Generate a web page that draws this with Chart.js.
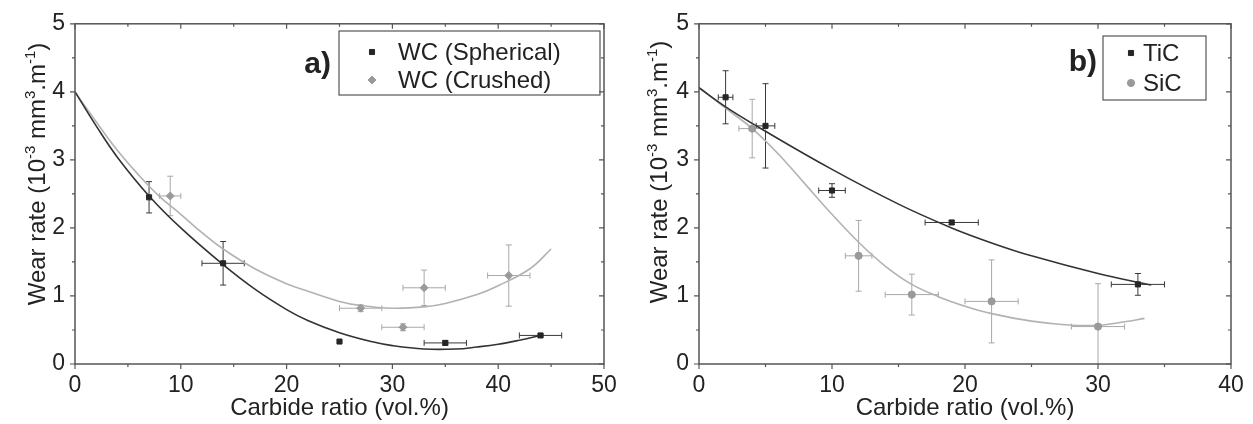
<!DOCTYPE html>
<html>
<head>
<meta charset="utf-8">
<script src="https://cdn.jsdelivr.net/npm/chart.js@4.4.1/dist/chart.umd.min.js"></script>
<style>
body { margin: 0; background: #fff; }
#wrap { position: relative; width: 1253px; height: 424px; }
canvas { position: absolute; top: 0; }
#chartA { left: 0; }
#chartB { left: 626px; }
</style>
</head>
<body>
<div id="wrap">
  <canvas id="chartA" width="626" height="424"></canvas>
  <canvas id="chartB" width="627" height="424"></canvas>
</div>
<script>
//datos panel a) - WC
var sphX    = [ 7, 14, 25, 35, 44 ];
var sphY    = [ 2.45, 1.48, 0.33, 0.31, 0.42 ];
var sphXErr = [ 0, 2, 0, 2, 2 ];
var sphYErr = [ 0.23, 0.32, 0, 0.03, 0.02 ];

var crX    = [ 9, 27, 31, 33, 41 ];
var crY    = [ 2.47, 0.82, 0.54, 1.12, 1.30 ];
var crXErr = [ 1, 2, 2, 2, 2 ];
var crYErr = [ 0.29, 0.05, 0.05, 0.26, 0.45 ];

var fitSphX = [ 0, 2, 4, 7, 10, 14, 17, 20, 22, 25, 28, 30, 33, 36, 38, 40, 42, 44 ];
var fitSphY = [ 4.0, 3.5, 3.04, 2.47, 2.0, 1.46, 1.1, 0.80, 0.64, 0.46, 0.33, 0.27, 0.22, 0.22, 0.25, 0.29, 0.35, 0.42 ];
var fitCrX  = [ 0, 2, 4, 6, 8, 10, 12, 14, 17, 20, 22, 25, 27, 30, 33, 35, 38, 40, 43, 45 ];
var fitCrY  = [ 4.0, 3.56, 3.14, 2.78, 2.46, 2.2, 1.93, 1.69, 1.4, 1.18, 1.07, 0.92, 0.86, 0.82, 0.84, 0.89, 1.02, 1.15, 1.40, 1.69 ];

//datos panel b) - TiC / SiC
var ticX    = [ 2, 5, 10, 19, 33 ];
var ticY    = [ 3.92, 3.50, 2.55, 2.08, 1.17 ];
var ticXErr = [ 0.55, 0.7, 1, 2, 2 ];
var ticYErr = [ 0.39, 0.62, 0.1, 0.03, 0.16 ];

var sicX    = [ 4, 12, 16, 22, 30 ];
var sicY    = [ 3.46, 1.59, 1.02, 0.92, 0.55 ];
var sicXErr = [ 1, 1, 2, 2, 2 ];
var sicYErr = [ 0.43, 0.52, 0.3, 0.61, 0.63 ];

var fitTicX = [ 0, 2, 5, 10, 15, 19, 22, 25, 30, 34 ];
var fitTicY = [ 4.06, 3.78, 3.42, 2.86, 2.35, 2.0, 1.78, 1.59, 1.33, 1.16 ];
var fitSicX = [ 0, 2, 4, 6, 8, 10, 12, 14, 16, 18, 20, 22, 25, 28, 30, 32, 33.5 ];
var fitSicY = [ 4.06, 3.76, 3.46, 3.08, 2.64, 2.2, 1.79, 1.44, 1.17, 0.99, 0.85, 0.74, 0.63, 0.57, 0.57, 0.62, 0.67 ];

var FONT = "'Liberation Sans', Arial, sans-serif";
var DARK = '#262626';
var LIGHT = '#9a9a9a';

function toPoints( xs, ys, xe, ye )
{
  return xs.map( function( x, i )
  {
    return { x: x, y: ys[ i ], xe: xe ? xe[ i ] : 0, ye: ye ? ye[ i ] : 0 };
  });
}

function fitSet( xs, ys, color )
{
  return {
    data: toPoints( xs, ys ),
    showLine: true,
    borderColor: color,
    borderWidth: 1.6,
    pointRadius: 0,
    tension: 0.4,
    order: 2
  };
}

function pointSet( label, pts, style, color, errColor )
{
  return {
    label: label,
    data: pts,
    showLine: false,
    pointStyle: style,
    pointRadius: style == 'rectRot' ? 4 : 3.6,
    backgroundColor: color,
    borderColor: color,
    borderWidth: 1,
    errColor: errColor,
    order: 1
  };
}

//barras de error, marco, titulos y leyenda
var decoPlugin =
{
  id: 'deco',
  beforeDatasetsDraw: function( chart )
  {
    var ctx = chart.ctx, sx = chart.scales.x, sy = chart.scales.y, a = chart.chartArea;
    ctx.save();
    ctx.beginPath();
    ctx.rect( a.left, a.top - 10, a.right - a.left, a.bottom - a.top + 10 );
    ctx.clip();
    ctx.lineWidth = 1;
    chart.data.datasets.forEach( function( ds )
    {
      if ( !ds.errColor ) return;
      ctx.strokeStyle = ds.errColor;
      ds.data.forEach( function( p )
      {
        var px = sx.getPixelForValue( p.x ), py = sy.getPixelForValue( p.y );
        ctx.beginPath();
        if ( p.xe )
        {
          var l = sx.getPixelForValue( p.x - p.xe ), r = sx.getPixelForValue( p.x + p.xe );
          ctx.moveTo( l, py ); ctx.lineTo( r, py );
          ctx.moveTo( l, py - 3 ); ctx.lineTo( l, py + 3 );
          ctx.moveTo( r, py - 3 ); ctx.lineTo( r, py + 3 );
        }
        if ( p.ye )
        {
          var t = sy.getPixelForValue( p.y + p.ye ), b = sy.getPixelForValue( p.y - p.ye );
          ctx.moveTo( px, t ); ctx.lineTo( px, b );
          ctx.moveTo( px - 3, t ); ctx.lineTo( px + 3, t );
          ctx.moveTo( px - 3, b ); ctx.lineTo( px + 3, b );
        }
        ctx.stroke();
      });
    });
    ctx.restore();
  },
  afterDraw: function( chart )
  {
    var ctx = chart.ctx, sx = chart.scales.x, sy = chart.scales.y, a = chart.chartArea;
    var cfg = chart.options.plugins.deco;
    ctx.save();

    //marco
    ctx.strokeStyle = '#555';
    ctx.lineWidth = 1.5;
    ctx.strokeRect( a.left, a.top, a.right - a.left, a.bottom - a.top );

    //marcas de ejes
    ctx.lineWidth = 1.2;
    ctx.beginPath();
    for ( var v = sx.min; v <= sx.max + 0.001; v += cfg.xMinor )
    {
      var px = sx.getPixelForValue( v );
      var len = Math.abs( v % ( cfg.xMinor * 2 ) ) < 0.001 ? 5 : 3;
      ctx.moveTo( px, a.bottom ); ctx.lineTo( px, a.bottom + len );
      ctx.moveTo( px, a.top ); ctx.lineTo( px, a.top + len );
    }
    for ( var w = sy.min; w <= sy.max + 0.001; w += 0.5 )
    {
      var py = sy.getPixelForValue( w );
      var len2 = Math.abs( w % 1 ) < 0.001 ? 5 : 3;
      ctx.moveTo( a.left, py ); ctx.lineTo( a.left - len2, py );
      ctx.moveTo( a.right, py ); ctx.lineTo( a.right - len2, py );
    }
    ctx.stroke();

    //titulo eje x
    ctx.fillStyle = '#222';
    ctx.font = '24px ' + FONT;
    ctx.textAlign = 'center';
    ctx.textBaseline = 'alphabetic';
    ctx.fillText( 'Carbide ratio (vol.%)', ( a.left + a.right ) / 2, 415 );

    //titulo eje y con superindices
    var parts = [ [ 'Wear rate (10', 0 ], [ '-3', 1 ], [ ' mm', 0 ], [ '3', 1 ], [ '.m', 0 ], [ '-1', 1 ], [ ')', 0 ] ];
    ctx.save();
    ctx.translate( a.left - cfg.yTitleGap, cfg.yTitleMid );
    ctx.rotate( -Math.PI / 2 );
    ctx.textAlign = 'left';
    var total = 0;
    parts.forEach( function( p )
    {
      ctx.font = ( p[ 1 ] ? '15px ' : '24px ' ) + FONT;
      total += ctx.measureText( p[ 0 ] ).width;
    });
    var cx = -total / 2;
    parts.forEach( function( p )
    {
      ctx.font = ( p[ 1 ] ? '15px ' : '24px ' ) + FONT;
      ctx.fillText( p[ 0 ], cx, p[ 1 ] ? -10 : 0 );
      cx += ctx.measureText( p[ 0 ] ).width;
    });
    ctx.restore();

    //etiqueta del panel
    ctx.font = 'bold 30px ' + FONT;
    ctx.textAlign = 'right';
    ctx.textBaseline = 'middle';
    ctx.fillText( cfg.tag, cfg.tagX, cfg.tagY );

    //leyenda
    var box = cfg.box;
    ctx.strokeStyle = '#555';
    ctx.lineWidth = 1.2;
    ctx.strokeRect( box[ 0 ], box[ 1 ], box[ 2 ] - box[ 0 ], box[ 3 ] - box[ 1 ] );
    ctx.font = '24px ' + FONT;
    ctx.textAlign = 'left';
    cfg.items.forEach( function( it )
    {
      var ds = chart.data.datasets[ it.ds ];
      ctx.fillStyle = ds.backgroundColor;
      ctx.strokeStyle = ds.borderColor;
      ctx.lineWidth = 1;
      Chart.helpers.drawPoint( ctx, { pointStyle: ds.pointStyle, radius: ds.pointRadius, borderWidth: 1, rotation: 0 }, cfg.markX, it.y );
      ctx.fillStyle = '#222';
      ctx.fillText( ds.label, cfg.textX, it.y + 1 );
    });

    ctx.restore();
  }
};

function makeChart( id, datasets, xMax, deco, yAxisW )
{
  return new Chart( document.getElementById( id ),
  {
    type: 'scatter',
    data: { datasets: datasets },
    options:
    {
      responsive: false,
      animation: false,
      layout: { padding: { top: 18, right: 22, left: 0, bottom: 0 } },
      plugins:
      {
        legend: { display: false },
        tooltip: { enabled: false },
        deco: deco
      },
      scales:
      {
        x:
        {
          type: 'linear', min: 0, max: xMax,
          afterFit: function( s ) { s.height = 60; },
          grid: { display: false, drawTicks: false },
          border: { display: false },
          ticks: { stepSize: 10, maxRotation: 0, padding: 8, color: '#222', font: { family: FONT, size: 23 } }
        },
        y:
        {
          type: 'linear', min: 0, max: 5,
          afterFit: function( s ) { s.width = yAxisW; },
          grid: { display: false, drawTicks: false },
          border: { display: false },
          ticks: { stepSize: 1, padding: 10, color: '#222', font: { family: FONT, size: 23 } }
        }
      }
    },
    plugins: [ decoPlugin ]
  });
}

//panel a)
makeChart( 'chartA',
[
  pointSet( 'WC (Spherical)', toPoints( sphX, sphY, sphXErr, sphYErr ), 'rect', DARK, '#3a3a3a' ),
  pointSet( 'WC (Crushed)', toPoints( crX, crY, crXErr, crYErr ), 'rectRot', LIGHT, '#a8a8a8' ),
  fitSet( fitSphX, fitSphY, '#333' ),
  fitSet( fitCrX, fitCrY, '#b2b2b2' )
], 50,
{
  xMinor: 5, yTitleGap: 30, yTitleMid: 174,
  tag: 'a)', tagX: 331, tagY: 65,
  box: [ 339, 31, 600, 95 ], markX: 372, textX: 398,
  items: [ { ds: 0, y: 52 }, { ds: 1, y: 80 } ]
}, 75 );

//panel b)
makeChart( 'chartB',
[
  pointSet( 'TiC', toPoints( ticX, ticY, ticXErr, ticYErr ), 'rect', DARK, '#3a3a3a' ),
  pointSet( 'SiC', toPoints( sicX, sicY, sicXErr, sicYErr ), 'circle', LIGHT, '#a8a8a8' ),
  fitSet( fitTicX, fitTicY, '#333' ),
  fitSet( fitSicX, fitSicY, '#b2b2b2' )
], 40,
{
  xMinor: 5, yTitleGap: 32, yTitleMid: 172,
  tag: 'b)', tagX: 471, tagY: 63,
  box: [ 477, 36, 580, 100 ], markX: 505, textX: 517,
  items: [ { ds: 0, y: 53 }, { ds: 1, y: 83 } ]
}, 73 );
</script>
</body>
</html>
